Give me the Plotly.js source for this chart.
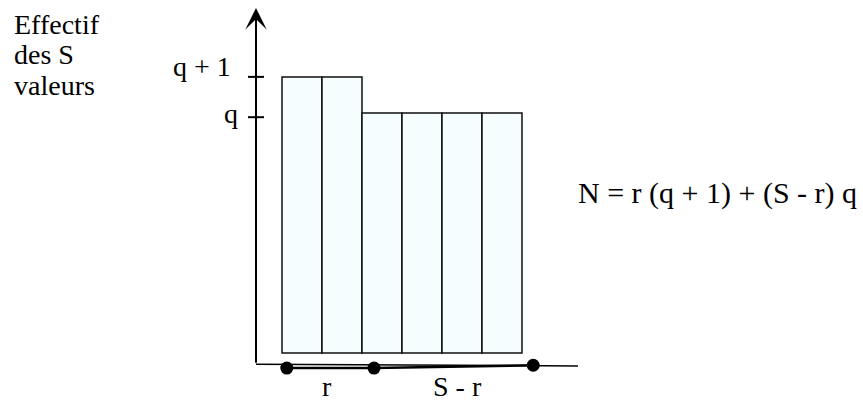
<!DOCTYPE html>
<html>
<head>
<meta charset="utf-8">
<script src="https://cdn.plot.ly/plotly-3.0.1.min.js"></script>
<style>html,body{margin:0;padding:0;background:#fff;}#chart{width:863px;height:400px;}</style>
</head>
<body>
<div id="chart"></div>
<script>
// ---- data ----
const barPositions = [0, 1, 2, 3, 4, 5];
const barValues = [7.67, 7.67, 6.67, 6.67, 6.67, 6.67];
const yTickVals = [6.55, 7.67];
const yTickText = ['q', 'q + 1'];
const dotX = [-0.38, 1.8, 5.78];
const dotY = [-0.42, -0.42, -0.34];
const segLabels = ['r', 'S - r'];
const segLabelX = [0.62, 3.88];
const yTitleLines = ['Effectif', 'des S', 'valeurs'];
const formula = 'N = r (q + 1) + (S - r) q';

// ---- layout helpers ----
const W = 863, H = 400;
const px = p => p / W;
const py = p => 1 - p / H;
const axisX = -1.15;
const axisBottom = -0.31;
const axisTop = 9.58;
const xAxisEnd = 6.9;
const FONT = '"Liberation Serif", "Times New Roman", Times, "DejaVu Serif", serif';

const traces = [
  {
    type: 'bar', x: barPositions, y: barValues, width: 1,
    marker: {color: '#f6fdfe', line: {color: '#111', width: 1.5}},
    hoverinfo: 'skip'
  },
  {
    type: 'scatter', mode: 'lines+markers', x: dotX, y: dotY,
    line: {color: '#000', width: 2.5},
    marker: {color: '#000', size: 13},
    hoverinfo: 'skip'
  }
];

const shapes = [
  {type: 'line', xref: 'x', yref: 'y', x0: axisX, x1: xAxisEnd, y0: axisBottom, y1: -0.36,
   line: {color: '#000', width: 1.5}}
];
yTickVals.forEach(v => shapes.push({
  type: 'line', xref: 'x', yref: 'y', xsizemode: 'pixel', xanchor: axisX,
  x0: -8, x1: 8, y0: v, y1: v, line: {color: '#000', width: 2}
}));

const annotations = [
  {x: axisX, y: axisTop, ax: axisX, ay: axisBottom, xref: 'x', yref: 'y', axref: 'x', ayref: 'y',
   showarrow: true, arrowhead: 3, arrowsize: 1.8, arrowwidth: 2, arrowcolor: '#000', text: ''}
];
const tickShift = [4, 10];
const tickXShift = [-16, -23];
yTickVals.forEach((v, i) => annotations.push({
  x: axisX, y: v, xref: 'x', yref: 'y', xanchor: 'right', yanchor: 'middle',
  xshift: tickXShift[i], yshift: tickShift[i], showarrow: false, text: yTickText[i],
  font: {family: FONT, size: 28, color: '#000'}
}));
segLabels.forEach((t, i) => annotations.push({
  x: segLabelX[i], y: py(386), xref: 'x', yref: 'paper', xanchor: 'center', yanchor: 'middle',
  height: 24, valign: 'middle',
  showarrow: false, text: t, font: {family: FONT, size: 28, color: '#000'}
}));
const titleY = [24, 55, 86];
yTitleLines.forEach((t, i) => annotations.push({
  x: px(12), y: py(titleY[i]), xref: 'paper', yref: 'paper', xanchor: 'left', yanchor: 'middle',
  showarrow: false, text: t, font: {family: FONT, size: 28, color: '#000'}
}));
annotations.push({
  x: px(576), y: py(193), xref: 'paper', yref: 'paper', xanchor: 'left', yanchor: 'middle',
  showarrow: false, text: formula, font: {family: FONT, size: 30, color: '#000'}
});

const layout = {
  width: W, height: H, autosize: false,
  margin: {l: 0, r: 0, t: 0, b: 0, pad: 0},
  paper_bgcolor: '#fff', plot_bgcolor: '#fff',
  font: {family: FONT},
  showlegend: false, bargap: 0,
  xaxis: {range: [-7.55, 14.025], visible: false, fixedrange: true},
  yaxis: {range: [-1.3056, 9.8056], visible: false, fixedrange: true},
  shapes: shapes, annotations: annotations
};

Plotly.newPlot('chart', traces, layout, {staticPlot: true, displayModeBar: false});
</script>
</body>
</html>
